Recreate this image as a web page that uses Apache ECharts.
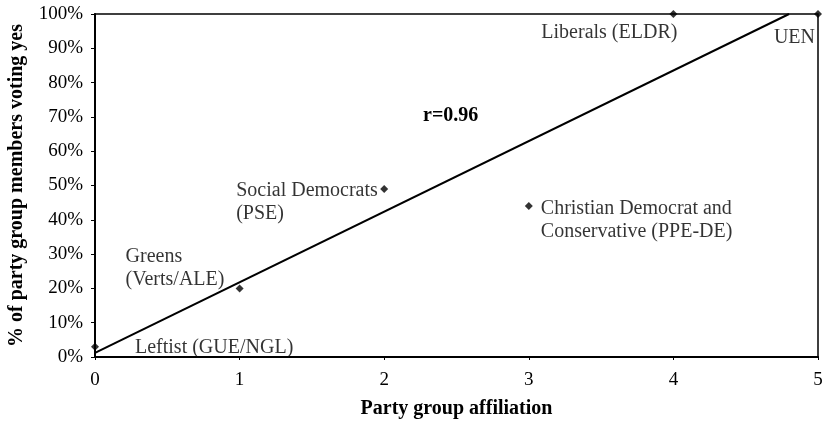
<!DOCTYPE html>
<html>
<head>
<meta charset="utf-8">
<script src="https://cdn.jsdelivr.net/npm/echarts@6/dist/echarts.min.js"></script>
<style>html,body{margin:0;padding:0;background:#fff}#c{width:828px;height:423px}</style>
</head>
<body>
<div id="c"></div>
<script>
// Data
const partyX = [0, 1, 2, 3, 4, 5];
const partyYes = [3, 20, 49, 44, 100, 100];
const partyNames = ['Leftist (GUE/NGL)', 'Greens\n(Verts/ALE)', 'Social Democrats\n(PSE)', 'Christian Democrat and\nConservative (PPE-DE)', 'Liberals (ELDR)', 'UEN'];
const trendX = [0, 4.8];
const trendY = [1.2, 100];
const xTicks = ['0', '1', '2', '3', '4', '5'];
const yTickStep = 10;
const rText = 'r=0.96';

// label placement styling (per point)
const labelStyles = [
  {align: 'left', offset: [40, 1]},
  {align: 'left', offset: [-114, -20]},
  {align: 'left', offset: [-148, 13]},
  {align: 'left', offset: [12, 14]},
  {align: 'right', offset: [4, 19]},
  {align: 'right', offset: [-3, 24]}
];

const font = 'Liberation Serif';
const chart = echarts.init(document.getElementById('c'), null, {renderer: 'canvas'});

const scatterData = partyX.map((x, i) => ({
  value: [x, partyYes[i]],
  label: {
    show: true,
    formatter: partyNames[i],
    position: 'inside',
    align: labelStyles[i].align,
    verticalAlign: 'middle',
    offset: labelStyles[i].offset,
    lineHeight: 23
  }
}));

chart.setOption({
  animation: false,
  backgroundColor: '#fff',
  grid: {left: 95, right: 10, top: 14, bottom: 66, containLabel: false, outerBoundsMode: 'none', show: true, borderColor: '#000', borderWidth: 1.5, backgroundColor: 'transparent'},
  xAxis: {
    type: 'value', min: 0, max: 5, interval: 1,
    name: 'Party group affiliation', nameLocation: 'middle', nameGap: 42,
    nameTextStyle: {fontFamily: font, fontWeight: 'bold', fontSize: 20, color: '#000'},
    axisLine: {show: true, onZero: false, lineStyle: {color: '#000', width: 2}},
    axisTick: {show: true, length: 3, lineStyle: {color: '#000'}},
    axisLabel: {fontFamily: font, fontSize: 19, color: '#000', margin: 14, formatter: v => xTicks[v]},
    splitLine: {show: false}
  },
  yAxis: {
    type: 'value', min: 0, max: 100, interval: yTickStep,
    name: '% of party group members voting yes', nameLocation: 'middle', nameGap: 68, nameRotate: 90,
    nameTextStyle: {fontFamily: font, fontWeight: 'bold', fontSize: 20, color: '#000'},
    axisLine: {show: true, lineStyle: {color: '#000', width: 2}},
    axisTick: {show: true, length: 4, lineStyle: {color: '#000'}},
    axisLabel: {fontFamily: font, fontSize: 19, color: '#000', margin: 12, formatter: v => v + '%'},
    splitLine: {show: false}
  },
  graphic: [{
    type: 'text', left: 423, top: 106,
    style: {text: rText, fontFamily: font, fontWeight: 'bold', fontSize: 20, fill: '#000'}
  }],
  series: [
    {
      type: 'line', data: trendX.map((x, i) => [x, trendY[i]]),
      symbol: 'none', lineStyle: {color: '#000', width: 2}, silent: true, z: 2
    },
    {
      type: 'scatter', data: scatterData, symbol: 'diamond', symbolSize: 8,
      itemStyle: {color: '#000'},
      label: {fontFamily: font, fontSize: 20, color: '#000'},
      z: 3
    }
  ]
});
</script>
</body>
</html>
